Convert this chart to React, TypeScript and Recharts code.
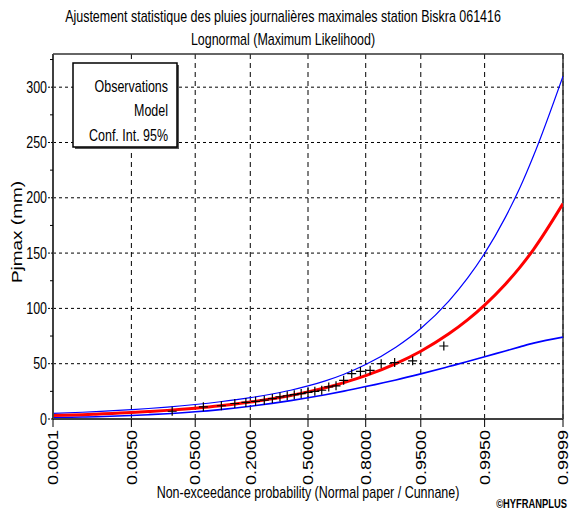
import {
  CartesianGrid,
  ComposedChart,
  Line,
  ReferenceLine,
  Scatter,
  XAxis,
  YAxis,
} from "recharts"

// horizontal text in the source image is squeezed sideways
const FONT = "'Liberation Sans', Arial, sans-serif"
const SQUEEZE = 0.78

const tickProbs = [0.0001, 0.005, 0.05, 0.2, 0.5, 0.8, 0.95, 0.995, 0.9999]
const tickLabels = ["0.0001", "0.0050", "0.0500", "0.2000", "0.5000", "0.8000", "0.9500", "0.9950", "0.9999"]
const yTicks = [0, 25, 50, 75, 100, 125, 150, 175, 200, 225, 250, 275, 300, 325]
const yGrid = [50, 100, 150, 200, 250, 300]

// fitted lognormal and its 95% band
const curveProbs = [
  0.0001, 0.0005, 0.001, 0.005, 0.01, 0.02, 0.05, 0.1, 0.2, 0.3, 0.4, 0.5,
  0.6, 0.7, 0.8, 0.9, 0.95, 0.98, 0.99, 0.995, 0.998, 0.999, 0.9995, 0.9999,
]
const modelValues = [
  3.1, 3.9, 4.4, 5.8, 6.7, 7.8, 9.8, 12.0, 15.4, 18.3, 21.3, 24.5,
  28.2, 32.9, 39.2, 50.1, 61.3, 77.0, 89.6, 103.0, 121.9, 137.1, 153.4, 194.7,
]
const upperValues = [
  5.0, 6.1, 6.7, 8.5, 9.5, 10.8, 13.1, 15.6, 19.3, 22.6, 26.0, 29.9,
  34.5, 40.5, 49.2, 64.9, 81.8, 106.6, 127.3, 149.7, 182.3, 209.0, 238.2, 310.0,
]
const lowerValues = [
  1.2, 1.8, 2.1, 3.2, 3.9, 4.8, 6.5, 8.5, 11.5, 14.1, 16.6, 19.2,
  22.0, 25.2, 29.3, 35.3, 40.8, 47.4, 51.9, 56.3, 61.5, 65.2, 68.6, 74.0,
]

// observations (Cunnane plotting positions)
const obsProbs = [
  0.0238, 0.0635, 0.1032, 0.1429, 0.1825, 0.2222, 0.2619, 0.3016, 0.3413,
  0.381, 0.4206, 0.4603, 0.5, 0.5397, 0.5794, 0.619, 0.6587, 0.6984, 0.7381,
  0.7778, 0.8175, 0.8571, 0.8968, 0.9365, 0.9762,
]
const obsValues = [
  7, 11, 12, 14, 15, 16, 17, 18.5, 20, 21, 22, 23, 24, 25, 26, 29, 30, 35, 41,
  43, 44, 50, 51, 52.6, 66,
]

// inverse normal cdf (Acklam) for normal probability paper
function probit(p: number) {
  const a = [-39.69683028665376, 220.9460984245205, -275.9285104469687, 138.357751867269, -30.66479806614716, 2.506628277459239]
  const b = [-54.47609879822406, 161.5858368580409, -155.6989798598866, 66.80131188771972, -13.28068155288572]
  const c = [-0.007784894002430293, -0.3223964580411365, -2.400758277161838, -2.549732539343734, 4.374664141464968, 2.938163982698783]
  const d = [0.007784695709041462, 0.3224671290700398, 2.445134137142996, 3.754408661907416]
  const tail = (q: number) =>
    (((((c[0] * q + c[1]) * q + c[2]) * q + c[3]) * q + c[4]) * q + c[5]) /
    ((((d[0] * q + d[1]) * q + d[2]) * q + d[3]) * q + 1)
  if (p < 0.02425) return tail(Math.sqrt(-2 * Math.log(p)))
  if (p > 1 - 0.02425) return -tail(Math.sqrt(-2 * Math.log(1 - p)))
  const q = p - 0.5
  const r = q * q
  return (
    ((((((a[0] * r + a[1]) * r + a[2]) * r + a[3]) * r + a[4]) * r + a[5]) * q) /
    (((((b[0] * r + b[1]) * r + b[2]) * r + b[3]) * r + b[4]) * r + 1)
  )
}

const tickZ = tickProbs.map(probit)
const zMin = tickZ[0]
const zMax = tickZ[tickZ.length - 1]

const curveData = curveProbs.map((p, i) => ({
  z: probit(p),
  model: modelValues[i],
  upper: upperValues[i],
  lower: lowerValues[i],
}))
const obsData = obsProbs.map((p, i) => ({ z: probit(p), obs: obsValues[i] }))

function XTick({ x, y, payload }: any) {
  const i = tickZ.findIndex((z) => Math.abs(z - payload.value) < 1e-6)
  return (
    <text
      transform={`translate(${x},${y}) scale(${SQUEEZE},1) rotate(-90)`}
      textAnchor="end"
      dominantBaseline="central"
      fontSize={18}
      fontFamily={FONT}
      fill="#000"
    >
      {tickLabels[i]}
    </text>
  )
}

function YTick({ x, y, payload }: any) {
  const major = payload.value % 50 === 0
  return (
    <g>
      <line
        x1={x - (major ? 5 : 3)}
        x2={x}
        y1={y}
        y2={y}
        stroke="#000"
        strokeDasharray={major ? "2 1" : undefined}
      />
      {major && (
        <text
          transform={`translate(${x - 6},${y}) scale(${SQUEEZE},1)`}
          textAnchor="end"
          dominantBaseline="central"
          fontSize={16}
          fontFamily={FONT}
          fill="#000"
        >
          {payload.value}
        </text>
      )}
    </g>
  )
}

function Cross({ cx, cy }: any) {
  return (
    <path
      d={`M${cx - 4.5},${cy}H${cx + 4.5}M${cx},${cy - 4.5}V${cy + 4.5}`}
      stroke="#000"
      strokeWidth={1.2}
      fill="none"
    />
  )
}

function Squeezed({ x, y, size, anchor = "middle", bold = false, rotate = false, children }: any) {
  return (
    <text
      transform={`translate(${x},${y}) scale(${SQUEEZE},1)${rotate ? " rotate(-90)" : ""}`}
      textAnchor={anchor}
      fontSize={size}
      fontWeight={bold ? "bold" : "normal"}
      fontFamily={FONT}
      fill="#000"
    >
      {children}
    </text>
  )
}

export default function App() {
  return (
    <div style={{ position: "absolute", left: 0, top: 0, width: 569, height: 513, background: "#fff" }}>
      <ComposedChart
        width={569}
        height={513}
        data={curveData}
        margin={{ top: 54, right: 6, bottom: 64, left: 13 }}
      >
        <CartesianGrid horizontal={false} stroke="#000" strokeDasharray="5 4" />
        {yGrid.map((v) => (
          <ReferenceLine key={v} y={v} stroke="#000" strokeDasharray="3 3" />
        ))}
        <XAxis
          type="number"
          dataKey="z"
          domain={[zMin, zMax]}
          ticks={tickZ}
          interval={0}
          allowDataOverflow
          height={30}
          tickSize={8}
          tickMargin={3}
          axisLine={{ stroke: "#404040", strokeWidth: 2 }}
          tickLine={{ stroke: "#000" }}
          tick={<XTick />}
        />
        <YAxis
          type="number"
          domain={[0, 330]}
          ticks={yTicks}
          interval={0}
          allowDataOverflow
          width={40}
          tickSize={0}
          tickMargin={0}
          axisLine={{ stroke: "#404040", strokeWidth: 2 }}
          tickLine={false}
          tick={<YTick />}
        />
        <ReferenceLine y={330} stroke="#333" strokeWidth={1.5} />
        <ReferenceLine x={zMax} stroke="#333" strokeWidth={1.5} />
        <Line type="monotone" dataKey="upper" stroke="#0000ff" strokeWidth={1.2} dot={false} isAnimationActive={false} />
        <Line type="monotone" dataKey="lower" stroke="#0000ff" strokeWidth={1.6} dot={false} isAnimationActive={false} />
        <Line type="monotone" dataKey="model" stroke="#ff0000" strokeWidth={3} dot={false} isAnimationActive={false} />
        <Scatter data={obsData} dataKey="obs" shape={<Cross />} isAnimationActive={false} />
      </ComposedChart>
      <svg
        width={569}
        height={513}
        style={{ position: "absolute", left: 0, top: 0, pointerEvents: "none" }}
      >
        <Squeezed x={283} y={22} size={16}>
          Ajustement statistique des pluies journalières maximales station Biskra 061416
        </Squeezed>
        <Squeezed x={283} y={45} size={16}>
          Lognormal (Maximum Likelihood)
        </Squeezed>
        <rect x={75} y={65} width={104} height={84} fill="#555" />
        <rect x={73} y={63} width={104} height={84} fill="#fff" stroke="#000" strokeWidth={1.5} />
        <Squeezed x={168} y={92} size={16} anchor="end">Observations</Squeezed>
        <Squeezed x={168} y={116} size={16} anchor="end">Model</Squeezed>
        <Squeezed x={168} y={141} size={16} anchor="end">Conf. Int. 95%</Squeezed>
        <Squeezed x={22} y={232} size={19} rotate>
          Pjmax (mm)
        </Squeezed>
        <Squeezed x={308} y={498} size={16}>
          Non-exceedance probability (Normal paper / Cunnane)
        </Squeezed>
        <Squeezed x={567} y={508} size={12} anchor="end" bold>
          ©HYFRANPLUS
        </Squeezed>
      </svg>
    </div>
  )
}
